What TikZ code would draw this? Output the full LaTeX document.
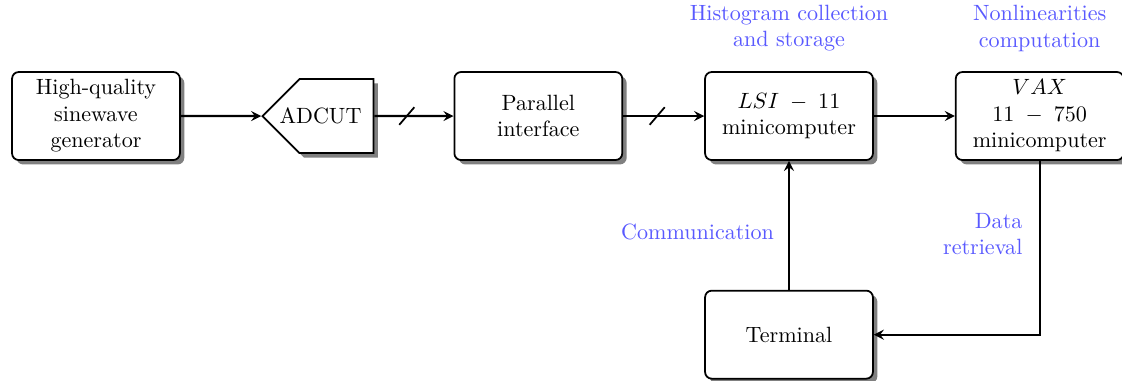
\documentclass[tikz,border=0pt]{standalone}
\usepackage{tikz}
\usepackage{amsmath}
\usetikzlibrary{positioning,shapes.symbols,shadows}
\tikzstyle{block}=[draw,thick,rounded corners=3pt,fill=white,align=center,minimum width=2.67cm,minimum height=1.4cm,inner sep=2pt,drop shadow={shadow xshift=2pt,shadow yshift=-2pt,fill=black!50,opacity=1}]
\tikzstyle{adcbox}=[draw,thick,fill=white,signal,signal to=west,signal from=nowhere,minimum height=1.18cm,inner xsep=0.19cm,drop shadow={shadow xshift=2pt,shadow yshift=-2pt,fill=black!50,opacity=1}]
\tikzstyle{note}=[text=blue!65,align=center]
\tikzstyle{link}=[line width=1pt,->,>=stealth]

\begin{document}
\begin{tikzpicture}
    \useasboundingbox (0,0) rectangle (17.85,6.046);
    \node[block] (gen) at (1.527,4.2) {High-quality\\sinewave\\generator};
    \node[adcbox, right=1.28cm of gen] (adc) {\makebox[0.795cm][r]{ADCUT}};
    \node[block, right=1.26cm of adc] (par) {Parallel\\interface};
    \node[block, right=1.29cm of par] (lsi) {$LSI\;-\;11$\\minicomputer};
    \node[block, right=1.29cm of lsi] (vax) {$VAX$\\$11\;-\;750$\\minicomputer};
    \node[block, below=2.05cm of lsi] (term) {Terminal};

    \node[note, above=0.19cm of lsi] (histlbl) {Histogram collection\\and storage};
    \node[note, above=0.19cm of vax] (nonlbl) {Nonlinearities\\computation};

    \draw[link] (gen) -- (adc);
    \draw[link] (adc) -- coordinate[pos=.41] (cut1) (par);
    \draw[link] (par) -- coordinate[pos=.42] (cut2) (lsi);
    \draw[link] (lsi) -- (vax);
    \draw[link] (term) -- node[note, pos=.45, left=3pt] {Communication} (lsi);
    \draw[link] (vax) |- node[note, pos=.21, left=4pt, align=right] {Data\\retrieval} (term);

    \foreach \c in {cut1,cut2}
    \draw[thick] (\c) +(-0.12,-0.14) -- +(0.12,0.14);
\end{tikzpicture}
\end{document}
